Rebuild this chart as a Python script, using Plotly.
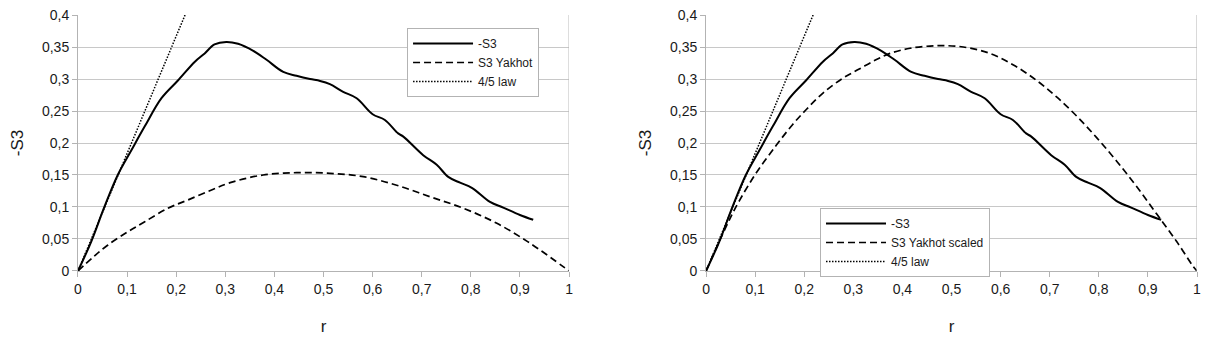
import plotly.graph_objects as go
from plotly.subplots import make_subplots

# -S3 measured
r_s3 = [0, 0.027, 0.054, 0.081, 0.109, 0.136, 0.17, 0.204, 0.238, 0.258, 0.278, 0.302,
        0.326, 0.357, 0.384, 0.418, 0.445, 0.4725, 0.493, 0.513, 0.54, 0.5675, 0.6,
        0.625, 0.652, 0.6626, 0.703, 0.7305, 0.754, 0.778, 0.802, 0.839, 0.866, 0.9,
        0.927]
s3 = [0, 0.046, 0.1005, 0.15, 0.189, 0.226, 0.27, 0.298, 0.327, 0.34, 0.354, 0.358,
      0.355, 0.344, 0.33, 0.311, 0.305, 0.3, 0.297, 0.292, 0.28, 0.27, 0.245,
      0.236, 0.215, 0.21, 0.181, 0.166, 0.147, 0.138, 0.13, 0.108, 0.099, 0.0875,
      0.08]

# Yakhot model (left)
r_yak = [0, 0.03, 0.061, 0.102, 0.136, 0.183, 0.224, 0.272, 0.31, 0.377, 0.445, 0.513,
         0.581, 0.649, 0.717, 0.785, 0.853, 0.921, 0.988, 1.0]
yakhot = [0, 0.021, 0.0406, 0.0615, 0.077, 0.098, 0.111, 0.1266, 0.138, 0.15, 0.1536,
          0.1526, 0.1474, 0.134, 0.116, 0.098, 0.0745, 0.0432, 0.0068, 0]

# Yakhot scaled (right)
r_yaks = [0, 0.0475, 0.068, 0.102, 0.1426, 0.1765, 0.2037, 0.2376, 0.278, 0.312, 0.346,
          0.3747, 0.4155, 0.47, 0.524, 0.578, 0.626, 0.673, 0.714, 0.755, 0.796, 0.836,
          0.877, 0.918, 0.9586, 0.9925, 1.0]
yakhot_scaled = [0, 0.080, 0.11, 0.153, 0.196, 0.229, 0.252, 0.2776, 0.301, 0.3156, 0.33,
                 0.34, 0.348, 0.352, 0.35, 0.34, 0.322, 0.298, 0.272, 0.242, 0.208, 0.172,
                 0.132, 0.089, 0.046, 0.0068, 0]

# 4/5 law
r_law = [0, 0.218]
law = [0, 0.4]

font = "Liberation Sans"
txt = "#1a1a1a"
fig = make_subplots(rows=1, cols=2)

solid = dict(color="black", width=2)
dashed = dict(color="black", width=1.7, dash="7px,4px")
dotted = dict(color="black", width=1.5, dash="1.5px,1.5px")

fig.add_trace(go.Scatter(x=r_s3, y=s3, name="-S3", mode="lines", legend="legend",
                         line=solid, line_shape="spline"), row=1, col=1)
fig.add_trace(go.Scatter(x=r_yak, y=yakhot, name="S3 Yakhot", mode="lines", legend="legend",
                         line=dashed, line_shape="spline"), row=1, col=1)
fig.add_trace(go.Scatter(x=r_law, y=law, name="4/5 law", mode="lines", legend="legend",
                         line=dotted), row=1, col=1)

fig.add_trace(go.Scatter(x=r_s3, y=s3, name="-S3", mode="lines", legend="legend2",
                         line=solid, line_shape="spline"), row=1, col=2)
fig.add_trace(go.Scatter(x=r_yaks, y=yakhot_scaled, name="S3 Yakhot scaled", mode="lines",
                         legend="legend2", line=dashed, line_shape="spline"), row=1, col=2)
fig.add_trace(go.Scatter(x=r_law, y=law, name="4/5 law", mode="lines", legend="legend2",
                         line=dotted), row=1, col=2)

axis_common = dict(showline=True, linecolor="#b3b3b3", linewidth=1, mirror=False,
                   ticks="outside", ticklen=5, tickcolor="#b3b3b3",
                   tickfont=dict(family=font, size=14, color=txt),
                   ticklabeloverflow="allow",
                   zeroline=False, automargin=False)
x_common = dict(axis_common, range=[0, 1], dtick=0.1, tick0=0, showgrid=False,
                title=dict(text="r", font=dict(family=font, size=17, color=txt),
                           standoff=24))
y_common = dict(axis_common, range=[0, 0.40001], dtick=0.05, tick0=0,
                showgrid=True, gridcolor="#c8c8c8", gridwidth=1,
                title=dict(text="-S3", font=dict(family=font, size=17, color=txt),
                           standoff=14))

# the page body adds an 8px offset, so domains are shifted by 8px
fig.update_layout(
    xaxis=dict(x_common, domain=[0.0568, 0.4554]),
    xaxis2=dict(x_common, domain=[0.5666, 0.9651]),
    yaxis=dict(y_common, domain=[0.2265, 0.9794]),
    yaxis2=dict(y_common, domain=[0.2265, 0.9794]),
    width=1232, height=340,
    margin=dict(l=0, r=0, t=0, b=0),
    plot_bgcolor="white", paper_bgcolor="white",
    separators=", ",
    font=dict(family=font, color=txt),
    showlegend=True,
    legend=dict(x=0.3239, y=0.9412, xanchor="left", yanchor="top",
                bordercolor="#b3b3b3", borderwidth=1, bgcolor="white", itemwidth=60,
                font=dict(family=font, size=12), tracegroupgap=0),
    legend2=dict(x=0.6591, y=0.4118, xanchor="left", yanchor="top",
                 bordercolor="#b3b3b3", borderwidth=1, bgcolor="white", itemwidth=60,
                 font=dict(family=font, size=12), tracegroupgap=0),
)
# right border of plot areas
for xa in ["x", "x2"]:
    fig.add_shape(type="line", xref=xa, yref="y", x0=1, x1=1, y0=0, y1=0.4,
                  line=dict(color="#b3b3b3", width=1))

fig.write_html("out.html")
